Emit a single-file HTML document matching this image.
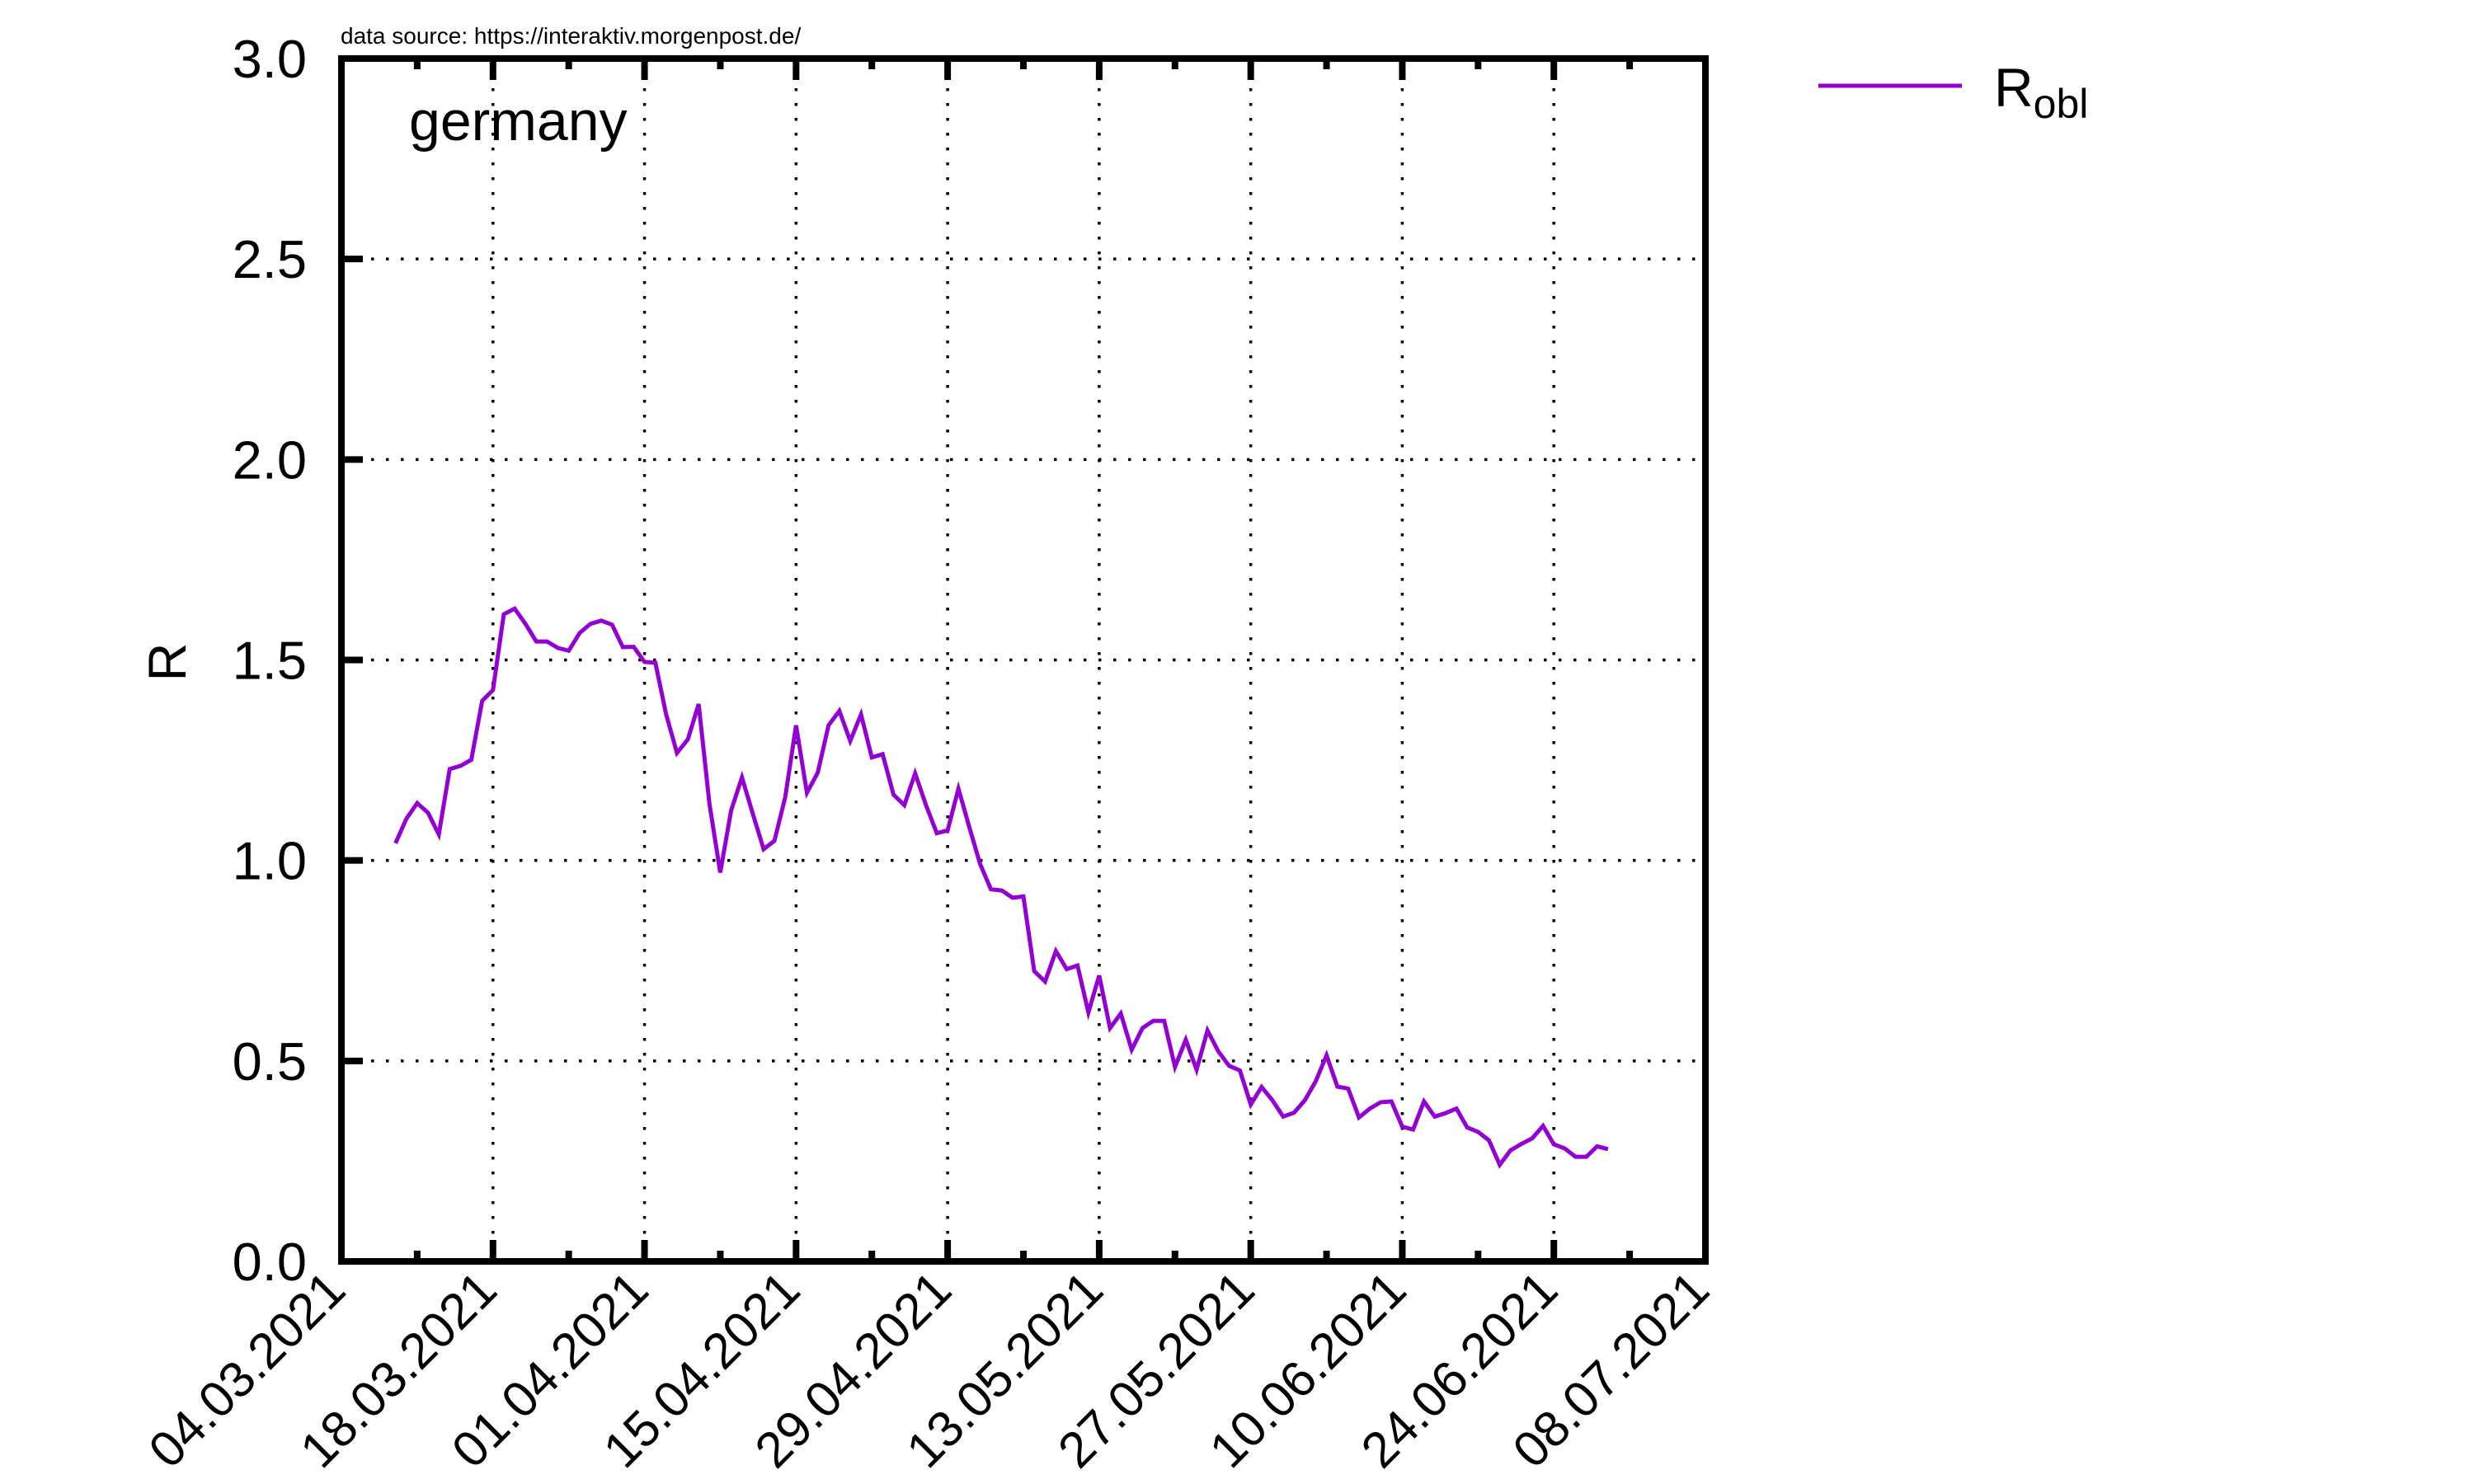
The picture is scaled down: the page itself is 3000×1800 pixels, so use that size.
<!DOCTYPE html>
<html><head><meta charset="utf-8"><style>
html,body{margin:0;padding:0;background:#fff;}
svg{display:block;font-family:"Liberation Sans",Arial,sans-serif;}
</style></head><body>
<svg id="chart" width="3000" height="1800" viewBox="0 0 3000 1800" xmlns="http://www.w3.org/2000/svg">
<g id="grid"></g>
<g id="series"></g>
<g id="axes"></g>
<text x="413" y="53" font-size="28">data source: https://interaktiv.morgenpost.de/</text>
<text x="496" y="170" font-size="68">germany</text>
<text transform="translate(225,803) rotate(-90)" text-anchor="middle" font-size="65">R</text>
<g>
<line x1="2205" y1="104" x2="2379" y2="104" stroke="#9400d3" stroke-width="5"/>
<text x="2418" y="129" font-size="66">R<tspan font-size="50" dy="14">obl</tspan></text>
</g>
</svg>
<script>
const startDay = 5;
const values = [1.043,1.104,1.143,1.119,1.065,1.228,1.236,1.251,1.398,1.425,1.614,1.628,1.590,1.546,1.546,1.530,1.523,1.567,1.590,1.598,1.588,1.532,1.533,1.495,1.493,1.364,1.268,1.302,1.390,1.141,0.970,1.125,1.207,1.117,1.028,1.049,1.158,1.337,1.169,1.219,1.337,1.373,1.298,1.364,1.257,1.265,1.164,1.138,1.217,1.138,1.068,1.075,1.179,1.083,0.991,0.928,0.925,0.907,0.910,0.724,0.698,0.774,0.729,0.738,0.621,0.713,0.582,0.618,0.528,0.582,0.600,0.600,0.485,0.553,0.478,0.576,0.524,0.488,0.476,0.391,0.435,0.402,0.361,0.371,0.402,0.449,0.514,0.436,0.431,0.359,0.381,0.397,0.399,0.336,0.329,0.399,0.361,0.370,0.381,0.334,0.323,0.302,0.241,0.277,0.293,0.307,0.338,0.292,0.282,0.261,0.261,0.287,0.280];
const xTickLabels = ["04.03.2021","18.03.2021","01.04.2021","15.04.2021","29.04.2021","13.05.2021","27.05.2021","10.06.2021","24.06.2021","08.07.2021"];
const yTickValues = [0,0.5,1,1.5,2,2.5,3];
const yTickLabels = ["0.0","0.5","1.0","1.5","2.0","2.5","3.0"];

const L=414,R=2068,T=71,B=1530,DAYS=126,YMAX=3;
const xs=d=>L+(R-L)*d/DAYS;
const ys=v=>B-(B-T)*v/YMAX;
const NS="http://www.w3.org/2000/svg";
function mk(tag,attrs,parent){const e=document.createElementNS(NS,tag);for(const k in attrs)e.setAttribute(k,attrs[k]);parent.appendChild(e);return e;}
const grid=document.getElementById('grid'),axes=document.getElementById('axes'),series=document.getElementById('series');

xTickLabels.forEach((lab,i)=>{
  if(i===0||i===xTickLabels.length-1)return;
  const x=xs(i*14);
  const g=mk('line',{x1:x,y1:T,x2:x,y2:B,stroke:'#000','stroke-width':3.5,'stroke-dasharray':'3.5,14.5'},grid);
  
  
});
yTickValues.forEach((v,i)=>{
  if(i===0||i===yTickValues.length-1)return;
  const y=ys(v);
  const g=mk('line',{x1:L,y1:y,x2:R,y2:y,stroke:'#000','stroke-width':3.5,'stroke-dasharray':'3.5,14.5'},grid);
  
  
});

const pts=values.map((v,i)=>xs(startDay+i).toFixed(1)+','+ys(v).toFixed(1)).join(' ');
const pl=mk('polyline',{points:pts,fill:'none',stroke:'#9400d3','stroke-width':5,'stroke-linejoin':'miter'},series);



const fr=mk('rect',{x:L,y:T,width:R-L,height:B-T,fill:'none',stroke:'#000','stroke-width':8},axes);



for(let d=7;d<DAYS;d+=7){
  const x=xs(d),len=(d%14===0)?26:13;
  const t1=mk('line',{x1:x,y1:B,x2:x,y2:B-len,stroke:'#000','stroke-width':8},axes);
  
  
  const t2=mk('line',{x1:x,y1:T,x2:x,y2:T+len,stroke:'#000','stroke-width':8},axes);
  
  
}
xTickLabels.forEach((lab,i)=>{
  const x=xs(i*14);
  const t=mk('text',{transform:`translate(${x+8},${B+38}) rotate(-45)`,'text-anchor':'end','font-size':61},axes);
  t.textContent=lab;
  
  
});
yTickValues.forEach((v,i)=>{
  const y=ys(v);
  if(i>0&&i<yTickValues.length-1){
    const tk=mk('line',{x1:L,y1:y,x2:L+26,y2:y,stroke:'#000','stroke-width':8},axes);
    
    
  }
  const t=mk('text',{x:372,y:y+23,'text-anchor':'end','font-size':65},axes);
  t.textContent=yTickLabels[i];
  
  
});
</script>
</body></html>
